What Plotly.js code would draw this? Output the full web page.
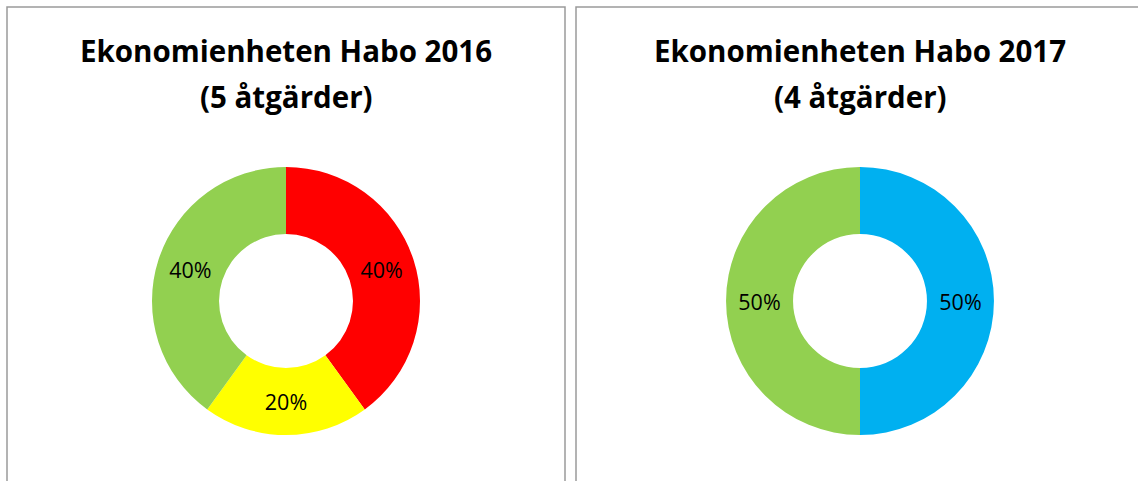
<!DOCTYPE html>
<html>
<head>
<meta charset="utf-8">
<script src="https://cdn.plot.ly/plotly-3.0.1.min.js"></script>
<style>
html,body{margin:0;padding:0;background:#fff;}
#chart{width:1138px;height:481px;}
</style>
</head>
<body>
<div id="chart"></div>
<script>
// Data
const labels2016 = ["Röd", "Gul", "Grön"];
const values2016 = [2, 1, 2];
const colors2016 = ["#FF0000", "#FFFF00", "#92D050"];

const labels2017 = ["Blå", "Grön"];
const values2017 = [2, 2];
const colors2017 = ["#00B0F0", "#92D050"];

const titles = ["Ekonomienheten Habo 2016", "Ekonomienheten Habo 2017"];
const subtitles = ["(5 åtgärder)", "(4 åtgärder)"];

const W = 1138, H = 481;
const px = v => v / W;
const py = v => 1 - v / H;

function donut(labels, values, colors, cx, cy, r) {
  return {
    type: "pie",
    labels: labels,
    values: values,
    marker: {colors: colors, line: {width: 0}},
    hole: 0.5,
    sort: false,
    direction: "clockwise",
    rotation: 0,
    textinfo: "percent",
    texttemplate: "%{percent:.0%}",
    textposition: "inside",
    insidetextorientation: "horizontal",
    textfont: {family: "Open Sans, sans-serif", size: 21.5, color: "#000"},
    hoverinfo: "label+percent",
    showlegend: false,
    domain: {x: [px(cx - r), px(cx + r)], y: [py(cy + r), py(cy - r)]}
  };
}

const data = [
  donut(labels2016, values2016, colors2016, 286, 301, 134),
  donut(labels2017, values2017, colors2017, 860, 301, 134)
];

const titleFont = {family: "Open Sans, sans-serif", size: 29.5, color: "#000"};
const annotations = [];
[[286, 0], [860, 1]].forEach(([cx, i]) => {
  annotations.push({x: px(cx), y: py(50), xref: "paper", yref: "paper", xanchor: "center", yanchor: "middle",
    text: "<b>" + titles[i] + "</b>", showarrow: false, font: titleFont});
  annotations.push({x: px(cx), y: py(96), xref: "paper", yref: "paper", xanchor: "center", yanchor: "middle",
    text: "<b>" + subtitles[i] + "</b>", showarrow: false, font: titleFont});
});

const borderLine = {color: "#9A9A9A", width: 1.5};
const shapes = [
  {type: "rect", xref: "paper", yref: "paper", x0: px(7), x1: px(565), y0: py(490), y1: py(7), line: borderLine},
  {type: "rect", xref: "paper", yref: "paper", x0: px(576), x1: px(1150), y0: py(490), y1: py(7), line: borderLine}
];

const layout = {
  width: W, height: H,
  margin: {l: 0, r: 0, t: 0, b: 0},
  paper_bgcolor: "#fff",
  plot_bgcolor: "#fff",
  annotations: annotations,
  shapes: shapes,
  showlegend: false
};

Plotly.newPlot("chart", data, layout, {displayModeBar: false, staticPlot: true});
</script>
</body>
</html>
